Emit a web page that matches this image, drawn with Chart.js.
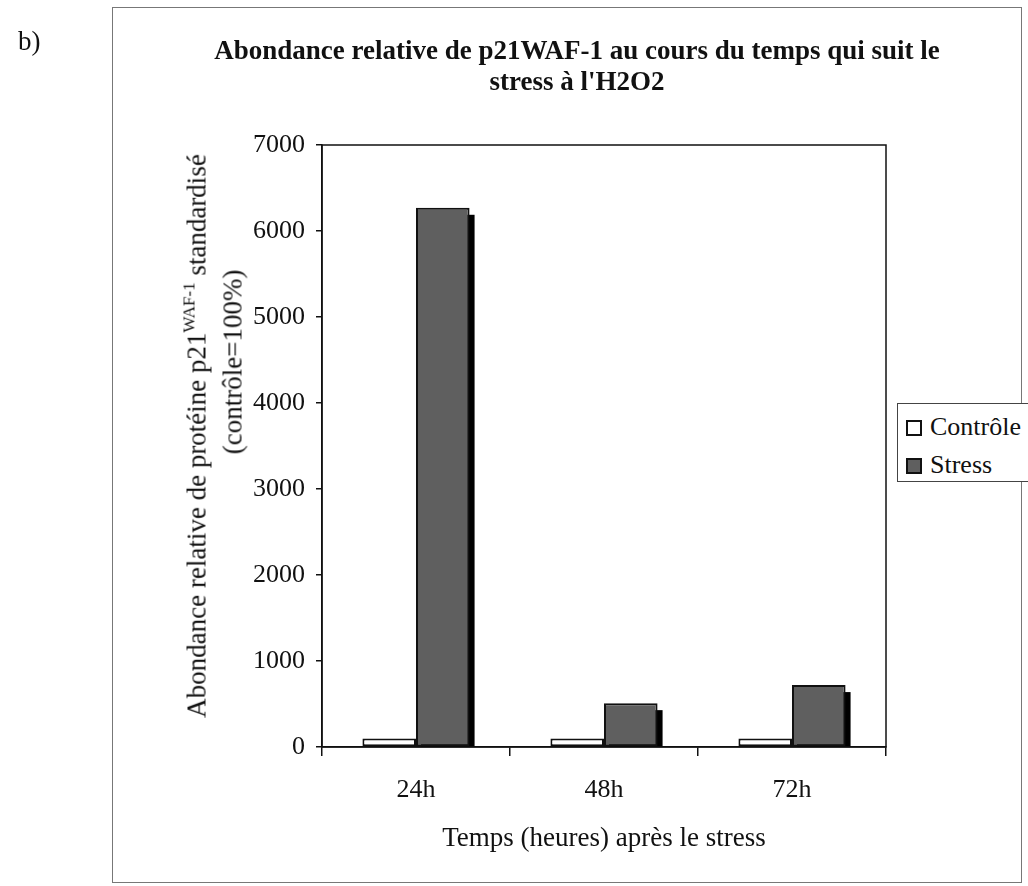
<!DOCTYPE html>
<html lang="fr">
<head>
<meta charset="utf-8">
<title>p21WAF-1</title>
<script src="https://cdn.jsdelivr.net/npm/chart.js@4.4.1/dist/chart.umd.min.js"></script>
<style>
    body { margin: 0; background: #fff; font-family: "Liberation Serif", "DejaVu Serif", serif; color: #111; }
    #wrap { position: relative; width: 1028px; height: 886px; overflow: hidden; }
    #frame { position: absolute; left: 112px; top: 7px; width: 910px; height: 876px; border: 1.5px solid #777; box-sizing: border-box; }
    canvas { position: absolute; left: 0; top: 0; }
    .txt { position: absolute; white-space: nowrap; }
    #part { left: 18px; top: 26px; font-size: 27px; }
    #title { left: 577px; top: 66px; transform: translate(-50%, -50%); font-weight: bold; font-size: 27px; text-align: center; line-height: 31px; }
    .ytitle { transform: translate(-50%, -50%) rotate(-90deg); font-size: 27px; }
    .ytitle sup { font-size: 17px; vertical-align: 11px; line-height: 0; }
    #legend { position: absolute; left: 897px; top: 403px; width: 160px; height: 79px; border: 1.5px solid #444; box-sizing: border-box; font-size: 26px; background: #fff; }
    .item { position: absolute; left: 8px; height: 30px; line-height: 30px; }
    .box { display: inline-block; width: 16px; height: 16px; border: 2px solid #111; margin-right: 8px; vertical-align: -1px; box-sizing: border-box; }
</style>
</head>
<body>
<div id="wrap">
    <div id="frame"></div>
    <canvas id="chart" width="1028" height="886"></canvas>
    <div class="txt" id="part">b)</div>
    <div class="txt" id="title">Abondance relative de p21WAF-1 au cours du temps qui suit le<br>stress à l'H2O2</div>
    <div class="txt ytitle" style="left:197px; top:436px;">Abondance relative de protéine p21<sup>WAF-1</sup> standardisé</div>
    <div class="txt ytitle" style="left:233px; top:362px;">(contrôle=100%)</div>
    <div id="legend">
        <div class="item" style="top:8px;"><span class="box" style="background:#fff"></span>Contrôle</div>
        <div class="item" style="top:46px;"><span class="box" style="background:#5f5f5f"></span>Stress</div>
    </div>
</div>
<script>
// données (contrôle = 100 %)
const temps = ['24h', '48h', '72h'];
const controle = [100, 100, 100];
const stress = [6270, 510, 720];
const yTicks = [0, 1000, 2000, 3000, 4000, 5000, 6000, 7000];

const serif = '"Liberation Serif", "DejaVu Serif", serif';

// ombre portée noire des barres "Stress" + cadre de la zone de tracé
const ombrePlugin = {
    id: 'ombre',
    beforeDatasetDraw(chart, args) {
        if (args.index !== 1) return;
        const ctx = chart.ctx;
        const a = chart.chartArea;
        ctx.save();
        ctx.beginPath();
        ctx.rect(a.left, a.top, a.right - a.left, a.bottom - a.top);
        ctx.clip();
        ctx.fillStyle = '#000';
        args.meta.data.forEach(el => {
            const p = el.getProps(['x', 'y', 'base', 'width'], true);
            ctx.fillRect(p.x - p.width / 2 + 5, p.y + 7, p.width, p.base - p.y);
        });
        ctx.restore();
    },
    afterDraw(chart) {
        const a = chart.chartArea;
        const ctx = chart.ctx;
        ctx.save();
        ctx.strokeStyle = '#111';
        ctx.lineWidth = 1.5;
        ctx.strokeRect(a.left, a.top, a.right - a.left, a.bottom - a.top);
        ctx.restore();
    }
};

new Chart(document.getElementById('chart'), {
    type: 'bar',
    data: {
        labels: temps,
        datasets: [
            {
                label: 'Contrôle',
                data: controle,
                backgroundColor: '#ffffff',
                borderColor: '#111',
                borderWidth: 2,
                borderSkipped: false,
                clip: 0
            },
            {
                label: 'Stress',
                data: stress,
                backgroundColor: '#5f5f5f',
                borderColor: '#111',
                borderWidth: 2,
                borderSkipped: false,
                clip: 0
            }
        ]
    },
    options: {
        responsive: false,
        animation: false,
        devicePixelRatio: 1,
        categoryPercentage: 0.57,
        barPercentage: 1.0,
        layout: { padding: { left: 222, right: 142, top: 145, bottom: 29 } },
        plugins: {
            legend: { display: false },
            title: { display: false },
            tooltip: { enabled: false }
        },
        scales: {
            x: {
                grid: { drawOnChartArea: false, drawTicks: true, tickLength: 9, color: '#111', lineWidth: 1.5 },
                border: { color: '#111', width: 1.5 },
                ticks: { color: '#111', padding: 19, font: { family: serif, size: 26 } },
                title: { display: true, text: 'Temps (heures) après le stress', color: '#111', padding: { bottom: 2 }, font: { family: serif, size: 27 } },
                afterFit(s) { s.height = 110; }
            },
            y: {
                min: 0,
                max: 7000,
                afterBuildTicks(s) { s.ticks = yTicks.map(v => ({ value: v })); },
                grid: { drawOnChartArea: false, drawTicks: true, tickLength: 6, color: '#111', lineWidth: 1.5 },
                border: { color: '#111', width: 1.5 },
                ticks: { color: '#111', padding: 11, font: { family: serif, size: 26 }, callback: v => String(v) },
                afterFit(s) { s.width = 100; }
            }
        }
    },
    plugins: [ombrePlugin]
});
</script>
</body>
</html>
